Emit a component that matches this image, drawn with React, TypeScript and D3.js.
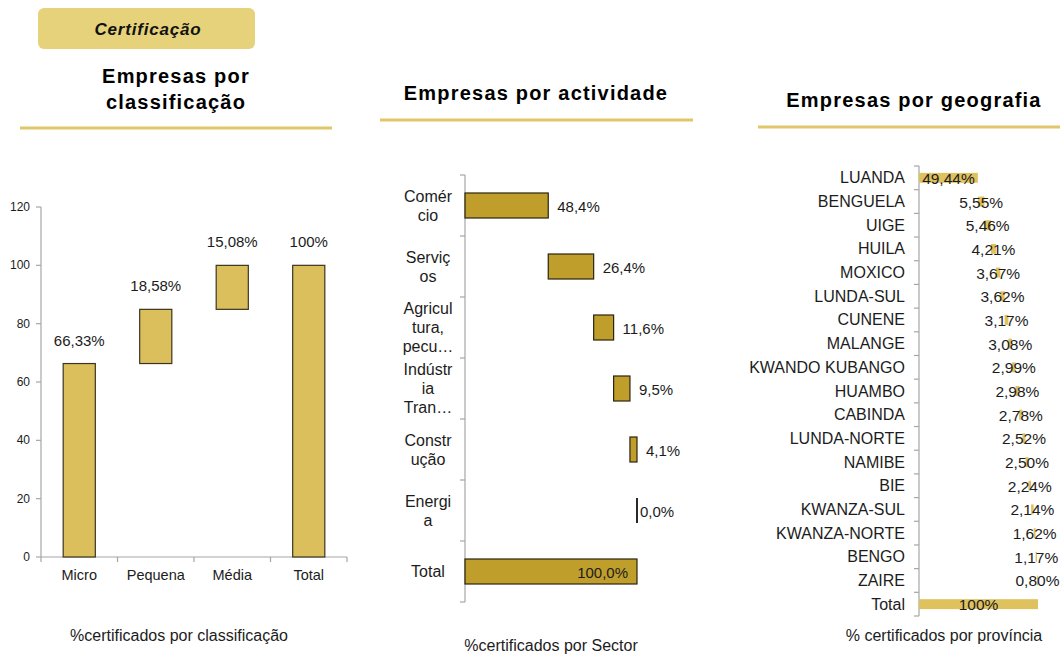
import React from 'react';
import * as d3 from 'd3';

// ---------- DATA ----------
const classCategories = ['Micro', 'Pequena', 'Média', 'Total'];
const classValues = [66.33, 18.58, 15.08, 100];
const classTicks = [0, 20, 40, 60, 80, 100, 120];

const sectorNames = ['Comércio', 'Serviços', 'Agricultura, pecuária', 'Indústria Transformadora', 'Construção', 'Energia', 'Total'];
const sectorLabelLines = [['Comér', 'cio'], ['Serviç', 'os'], ['Agricul', 'tura,', 'pecu…'], ['Indústr', 'ia', 'Tran…'], ['Constr', 'ução'], ['Energi', 'a'], ['Total']];
const sectorValues = [48.4, 26.4, 11.6, 9.5, 4.1, 0.0, 100];

const provinces = ['LUANDA', 'BENGUELA', 'UIGE', 'HUILA', 'MOXICO', 'LUNDA-SUL', 'CUNENE', 'MALANGE', 'KWANDO KUBANGO', 'HUAMBO', 'CABINDA', 'LUNDA-NORTE', 'NAMIBE', 'BIE', 'KWANZA-SUL', 'KWANZA-NORTE', 'BENGO', 'ZAIRE', 'Total'];
const provinceValues = [49.44, 5.55, 5.46, 4.21, 3.67, 3.62, 3.17, 3.08, 2.99, 2.98, 2.78, 2.52, 2.50, 2.24, 2.14, 1.62, 1.17, 0.80, 100];

// ---------- HELPERS ----------
const FONT = '"Liberation Sans", Arial, Helvetica, sans-serif';
const TXT = '#1c1c1c';
const AXIS = '#a6a6a6';
const comma = (s: string) => s.replace('.', ',');

function waterfall(values: number[], totalName: string, names: string[]) {
  let acc = 0;
  return values.map((v, i) => {
    if (names[i] === totalName) return { start: 0, end: v };
    const s = acc;
    acc += v;
    return { start: s, end: acc };
  });
}

function ClassChart() {
  const x = d3.scaleBand<string>().domain(classCategories).range([41, 347]).paddingInner(0.58).paddingOuter(0.29);
  const y = d3.scaleLinear().domain([0, 120]).range([557, 207]);
  const wf = waterfall(classValues, 'Total', classCategories);
  const step = x.step();
  const boundaries = d3.range(classCategories.length + 1).map((i) => 41 + i * step);
  return (
    <g fontFamily={FONT}>
      <line x1={41} x2={41} y1={y(120)} y2={y(0)} stroke={AXIS} strokeWidth={1.2} />
      {classTicks.map((t) => (
        <g key={t}>
          <line x1={36} x2={41} y1={y(t)} y2={y(t)} stroke={AXIS} strokeWidth={1.2} />
          <text x={30} y={y(t) + 4} fontSize={12} textAnchor="end" fill={TXT}>{t}</text>
        </g>
      ))}
      <line x1={41} x2={347} y1={y(0)} y2={y(0)} stroke={AXIS} strokeWidth={1.2} />
      {boundaries.map((b, i) => (
        <line key={i} x1={b} x2={b} y1={y(0)} y2={y(0) + 5} stroke={AXIS} strokeWidth={1.2} />
      ))}
      {classCategories.map((c, i) => (
        <g key={c}>
          <rect x={x(c)} width={x.bandwidth()} y={y(wf[i].end)} height={y(wf[i].start) - y(wf[i].end)}
            fill="#DBBF5C" stroke="#3b3520" strokeWidth={1.2} />
          <text x={(x(c) as number) + x.bandwidth() / 2} y={y(wf[i].end) - 18} fontSize={15} textAnchor="middle" fill={TXT}>
            {classValues[i] === 100 ? '100%' : comma(d3.format('.2f')(classValues[i])) + '%'}
          </text>
          <text x={(x(c) as number) + x.bandwidth() / 2} y={580} fontSize={14.5} textAnchor="middle" fill={TXT}>{c}</text>
        </g>
      ))}
      <text x={179} y={641} fontSize={16} textAnchor="middle" fill={TXT}>%certificados por classificação</text>
    </g>
  );
}

function SectorChart() {
  const y = d3.scaleBand<string>().domain(sectorNames).range([175, 602]).paddingInner(0.59).paddingOuter(0.295);
  const x = d3.scaleLinear().domain([0, 100]).range([465, 637]);
  const wf = waterfall(sectorValues, 'Total', sectorNames);
  const step = y.step();
  const boundaries = d3.range(sectorNames.length + 1).map((i) => 175 + i * step);
  return (
    <g fontFamily={FONT}>
      <line x1={465} x2={465} y1={175} y2={602} stroke={AXIS} strokeWidth={1.2} />
      {boundaries.map((b, i) => (
        <line key={i} x1={460} x2={465} y1={b} y2={b} stroke={AXIS} strokeWidth={1.2} />
      ))}
      {sectorNames.map((n, i) => {
        const cy = (y(n) as number) + y.bandwidth() / 2;
        const lines = sectorLabelLines[i];
        const lh = 19;
        const isTotal = n === 'Total';
        const w = x(wf[i].end) - x(wf[i].start);
        const label = comma(d3.format('.1f')(sectorValues[i])) + '%';
        return (
          <g key={n}>
            {w > 0 ? (
              <rect x={x(wf[i].start)} width={w} y={y(n)} height={y.bandwidth()} fill="#BF9E2C" stroke="#2a2410" strokeWidth={1.2} />
            ) : (
              <line x1={x(wf[i].start)} x2={x(wf[i].start)} y1={y(n)} y2={(y(n) as number) + y.bandwidth()} stroke="#111" strokeWidth={1.8} />
            )}
            {isTotal ? (
              <text x={x(wf[i].end) - 9} y={cy + 6} fontSize={15} textAnchor="end" fill={TXT}>{label}</text>
            ) : (
              <text x={x(wf[i].end) + (w > 0 ? 9 : 3)} y={cy + 6} fontSize={15} textAnchor="start" fill={TXT}>{label}</text>
            )}
            {lines.map((l, j) => (
              <text key={j} x={428} y={cy + 5.5 + (j - (lines.length - 1) / 2) * lh} fontSize={16} textAnchor="middle" fill={TXT}>{l}</text>
            ))}
          </g>
        );
      })}
      <text x={551} y={651} fontSize={16} textAnchor="middle" fill={TXT}>%certificados por Sector</text>
    </g>
  );
}

function ProvinceChart() {
  const y = d3.scaleBand<string>().domain(provinces).range([166, 616]).paddingInner(0.58).paddingOuter(0.29);
  const x = d3.scaleLinear().domain([0, 100]).range([919, 1038]);
  const wf = waterfall(provinceValues, 'Total', provinces);
  const step = y.step();
  const boundaries = d3.range(provinces.length + 1).map((i) => 166 + i * step);
  return (
    <g fontFamily={FONT}>
      <line x1={919} x2={919} y1={166} y2={616} stroke={AXIS} strokeWidth={1.2} />
      {boundaries.map((b, i) => (
        <line key={i} x1={914} x2={919} y1={b} y2={b} stroke={AXIS} strokeWidth={1.2} />
      ))}
      {provinces.map((p, i) => {
        const cy = (y(p) as number) + y.bandwidth() / 2;
        const v = provinceValues[i];
        const label = p === 'Total' ? '100%' : comma(d3.format('.2f')(v)) + '%';
        return (
          <g key={p}>
            <rect x={x(wf[i].start)} width={x(wf[i].end) - x(wf[i].start)} y={y(p)} height={y.bandwidth()} fill="#DFC15E" />
            <text x={(x(wf[i].start) + x(wf[i].end)) / 2} y={cy + 6} fontSize={15.5} textAnchor="middle" fill={TXT}>{label}</text>
            <text x={905} y={cy + 5.5} fontSize={16} textAnchor="end" fill={TXT}>{p}</text>
          </g>
        );
      })}
      <text x={944} y={641} fontSize={16} textAnchor="middle" fill={TXT}>% certificados por província</text>
    </g>
  );
}

export default function App() {
  const titleStyle = { fontFamily: FONT, fontWeight: 700, fontSize: 20, letterSpacing: 1.2 } as const;
  return (
    <svg width={1060} height={655} style={{ position: 'absolute', left: 0, top: 0, background: '#fff' }}>
      <rect x={0} y={0} width={1060} height={655} fill="#fff" />
      <rect x={38} y={8} width={217} height={41} rx={6} fill="#E6D27A" />
      <text x={148} y={35} textAnchor="middle" fontFamily={FONT} fontWeight={700} fontStyle="italic" fontSize={17} letterSpacing={0.8} fill="#111">Certificação</text>

      <text x={176} y={83} textAnchor="middle" {...titleStyle} fill="#000">Empresas por</text>
      <text x={176} y={109} textAnchor="middle" {...titleStyle} fill="#000">classificação</text>
      <line x1={20} x2={332} y1={128} y2={128} stroke="#E2C66A" strokeWidth={3} />

      <text x={536} y={100} textAnchor="middle" {...titleStyle} fill="#000">Empresas por actividade</text>
      <line x1={380} x2={693} y1={120} y2={120} stroke="#E2C66A" strokeWidth={3} />

      <text x={914} y={107} textAnchor="middle" {...titleStyle} fill="#000">Empresas por geografia</text>
      <line x1={758} x2={1060} y1={127} y2={127} stroke="#E2C66A" strokeWidth={3} />

      <ClassChart />
      <SectorChart />
      <ProvinceChart />
    </svg>
  );
}
